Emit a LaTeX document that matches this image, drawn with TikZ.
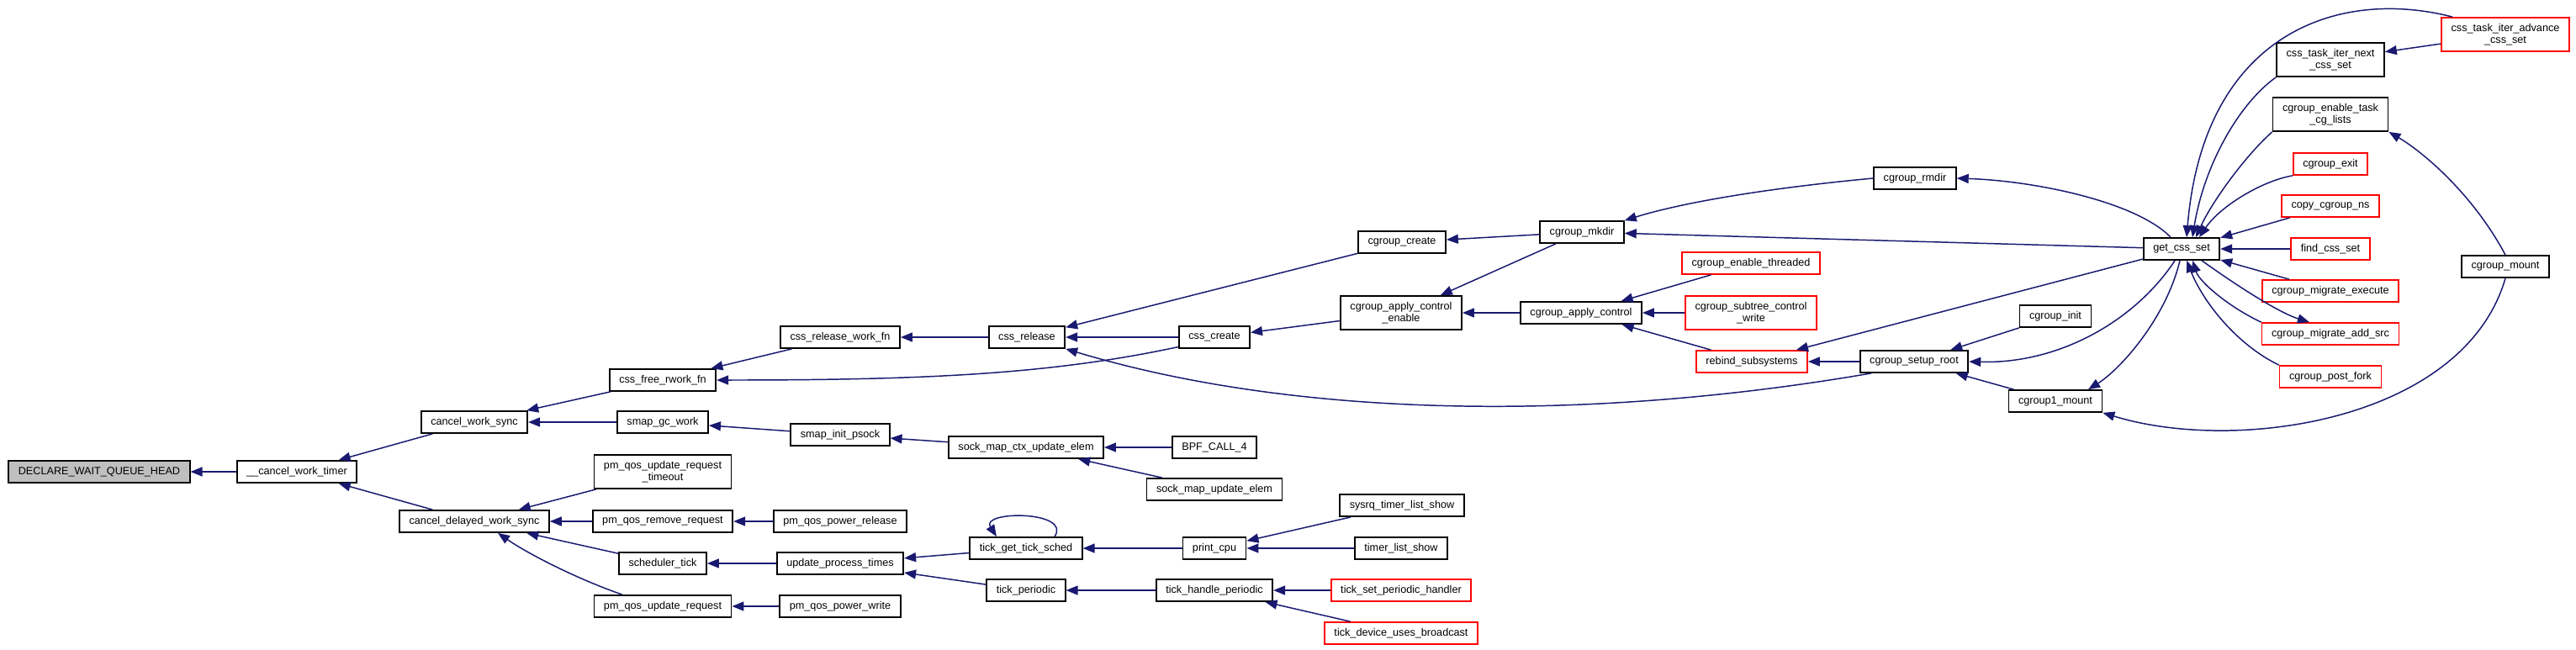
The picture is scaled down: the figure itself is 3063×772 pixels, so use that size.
\documentclass[tikz,border=0pt]{standalone}
\usepackage{fontspec}
\setmainfont{Liberation Sans}
\usetikzlibrary{arrows.meta}
\definecolor{edgeblue}{HTML}{191970}
\definecolor{rootgray}{HTML}{BFBFBF}

\begin{document}
\begin{tikzpicture}[x=0.01cm, y=-0.01cm, >={Triangle[length=0.14cm, width=0.11cm]},
  font=\fontsize{3.6}{4}\selectfont,
  fn/.style={draw=black, line width=0.5pt, fill=white, inner xsep=0.115cm, inner ysep=0pt,
    minimum height=0.26cm, align=center},
  fnred/.style={fn, draw=red},
  fnroot/.style={fn, fill=rootgray},
  two/.style={minimum height=0.40cm},
  call/.style={->, draw=edgeblue, line width=0.42pt}]
  \useasboundingbox[fill=white] (0,0) rectangle (3063,772);

  % the function itself and its direct callers
  \node[fnroot] (decl) at (118,561) {DECLARE\_WAIT\_QUEUE\_HEAD};
  \node[fn] (cwt) at (353,561) {\_\_cancel\_work\_timer};
  \node[fn] (cws) at (564,502) {cancel\_work\_sync};
  \node[fn] (cdws) at (564,620) {cancel\_delayed\_work\_sync};
  % third column
  \node[fn] (cfree) at (788,452) {css\_free\_rwork\_fn};
  \node[fn] (smapgc) at (788,502) {smap\_gc\_work};
  \node[fn, two] (pmurt) at (788,561) {pm\_qos\_update\_request\\\_timeout};
  \node[fn] (pmrr) at (788,620) {pm\_qos\_remove\_request};
  \node[fn] (schedtick) at (788,670) {scheduler\_tick};
  \node[fn] (pmur) at (788,721) {pm\_qos\_update\_request};
  \node[fn] (crwf) at (999,401) {css\_release\_work\_fn};
  \node[fn] (smapinit) at (999,517) {smap\_init\_psock};
  \node[fn] (pmpr) at (999,620) {pm\_qos\_power\_release};
  \node[fn] (upt) at (999,670) {update\_process\_times};
  \node[fn] (pmpw) at (999,721) {pm\_qos\_power\_write};
  \node[fn] (cssrel) at (1221,401) {css\_release};
  \node[fn] (smcue) at (1220,532) {sock\_map\_ctx\_update\_elem};
  \node[fn] (tgts) at (1220,652) {tick\_get\_tick\_sched};
  \node[fn] (tickper) at (1220,702) {tick\_periodic};
  \node[fn] (csscreate) at (1444,401) {css\_create};
  \node[fn] (bpf) at (1444,532) {BPF\_CALL\_4};
  \node[fn] (smue) at (1444,582) {sock\_map\_update\_elem};
  \node[fn] (printcpu) at (1444,652) {print\_cpu};
  \node[fn] (thp) at (1444,702) {tick\_handle\_periodic};
  \node[fn] (cgcreate) at (1667,288) {cgroup\_create};
  \node[fn, two] (cace) at (1666,372) {cgroup\_apply\_control\\\_enable};
  \node[fn] (sysrq) at (1667,601) {sysrq\_timer\_list\_show};
  \node[fn] (tls) at (1666,652) {timer\_list\_show};
  \node[fnred] (tsph) at (1666,702) {tick\_set\_periodic\_handler};
  \node[fnred] (tdub) at (1666,753) {tick\_device\_uses\_broadcast};
  % cgroup side
  \node[fn] (mkdir) at (1881,276) {cgroup\_mkdir};
  \node[fn] (cac) at (1880,372) {cgroup\_apply\_control};
  \node[fnred] (cet) at (2082,313) {cgroup\_enable\_threaded};
  \node[fnred, two] (cscw) at (2082,372) {cgroup\_subtree\_control\\\_write};
  \node[fnred] (rebind) at (2083,430) {rebind\_subsystems};
  \node[fn] (rmdir) at (2277,212) {cgroup\_rmdir};
  \node[fn] (setuproot) at (2276,430) {cgroup\_setup\_root};
  \node[fn] (cginit) at (2444,376) {cgroup\_init};
  \node[fn] (cg1mount) at (2444,477) {cgroup1\_mount};
  \node[fn] (getcss) at (2594,296) {get\_css\_set};
  \node[fn, two] (ctin) at (2771,71) {css\_task\_iter\_next\\\_css\_set};
  \node[fn, two] (cetcl) at (2771,136) {cgroup\_enable\_task\\\_cg\_lists};
  \node[fnred] (cgexit) at (2771,195) {cgroup\_exit};
  \node[fnred] (copyns) at (2771,245) {copy\_cgroup\_ns};
  \node[fnred] (findcss) at (2771,296) {find\_css\_set};
  \node[fnred] (cme) at (2771,346) {cgroup\_migrate\_execute};
  \node[fnred] (cmas) at (2771,397) {cgroup\_migrate\_add\_src};
  \node[fnred] (cpf) at (2771,448) {cgroup\_post\_fork};
  \node[fnred, two] (ctia) at (2979,41) {css\_task\_iter\_advance\\\_css\_set};
  \node[fn] (cgmount) at (2979,317) {cgroup\_mount};

  % straight calls (caller -> callee)
  \draw[call] (cwt) -- (decl);
  \draw[call] (cws) -- (cwt);
  \draw[call] (cdws) -- (cwt);
  \draw[call] (cfree) -- (cws);
  \draw[call] (smapgc) -- (cws);
  \draw[call] (pmurt) -- (cdws);
  \draw[call] (pmrr) -- (cdws);
  \draw[call] (schedtick) -- (cdws);
  \draw[call] (crwf) -- (cfree);
  \draw[call] (smapinit) -- (smapgc);
  \draw[call] (pmpr) -- (pmrr);
  \draw[call] (upt) -- (schedtick);
  \draw[call] (pmpw) -- (pmur);
  \draw[call] (cssrel) -- (crwf);
  \draw[call] (smcue) -- (smapinit);
  \draw[call] (tgts) -- (upt);
  \draw[call] (tickper) -- (upt);
  \draw[call] (cgcreate) -- (cssrel);
  \draw[call] (csscreate) -- (cssrel);
  \draw[call] (bpf) -- (smcue);
  \draw[call] (smue) -- (smcue);
  \draw[call] (printcpu) -- (tgts);
  \draw[call] (thp) -- (tickper);
  \draw[call] (cace) -- (csscreate);
  \draw[call] (sysrq) -- (printcpu);
  \draw[call] (tls) -- (printcpu);
  \draw[call] (tsph) -- (thp);
  \draw[call] (tdub) -- (thp);
  \draw[call] (mkdir) -- (cgcreate);
  \draw[call] (mkdir) -- (cace);
  \draw[call] (cac) -- (cace);
  \draw[call] (cet) -- (cac);
  \draw[call] (cscw) -- (cac);
  \draw[call] (rebind) -- (cac);
  \draw[call] (getcss) -- (mkdir);
  \draw[call] (getcss) -- (rebind);
  \draw[call] (setuproot) -- (rebind);
  \draw[call] (cginit) -- (setuproot);
  \draw[call] (cg1mount) -- (setuproot);
  \draw[call] (copyns) -- (getcss);
  \draw[call] (findcss) -- (getcss);
  \draw[call] (cme) -- (getcss);
  \draw[call] (ctia) -- (ctin);

  % curved calls
  \draw[call] ([xshift=-0.48cm]pmur.north) .. controls (690,690) and (630,660) .. ([xshift=0.28cm]cdws.south);
  \draw[call] (csscreate.195) .. controls (1250,445) and (1100,452) .. (cfree.east);
  \draw[call] ([xshift=-0.51cm]setuproot.south) .. controls (1900,500) and (1550,500) .. (cssrel.south east);
  % recursion on tick_get_tick_sched
  \draw[call] ([xshift=0.34cm]tgts.north) .. controls (1275,607) and (1165,607) .. ([xshift=-0.35cm]tgts.north);
  \draw[call] (rmdir.west) .. controls (2120,222) and (2010,238) .. (mkdir.north east);
  \draw[call] ([xshift=-0.13cm]getcss.north) .. controls (2540,240) and (2420,215) .. (rmdir.east);
  \draw[call] ([xshift=-0.08cm]getcss.south) .. controls (2540,380) and (2450,433) .. (setuproot.east);
  \draw[call] ([xshift=-0.02cm]getcss.south) .. controls (2575,380) and (2520,440) .. ([xshift=0.39cm]cg1mount.north);
  \draw[call] (cgmount.south) .. controls (2930,500) and (2660,540) .. (cg1mount.south east);
  \draw[call] (cgmount.north) .. controls (2940,230) and (2880,180) .. (cetcl.south east);
  % callers of get_css_set coming in from the right
  \draw[call] ([xshift=-0.63cm]ctia.north) .. controls (2780,-15) and (2620,40) .. ([xshift=0.06cm]getcss.north);
  \draw[call] (ctin.south west) .. controls (2660,125) and (2620,200) .. ([xshift=0.13cm]getcss.north);
  \draw[call] (cetcl.south west) .. controls (2670,185) and (2630,240) .. ([xshift=0.17cm]getcss.north);
  \draw[call] (cgexit.south west) .. controls (2690,215) and (2640,245) .. ([xshift=0.21cm]getcss.north);
  \draw[call] (cmas.north west) .. controls (2650,365) and (2615,335) .. ([xshift=0.13cm]getcss.south);
  \draw[call] ([xshift=0.24cm]getcss.south) .. controls (2660,340) and (2710,372) .. ([xshift=-0.25cm]cmas.north);
  \draw[call] (cpf.north west) .. controls (2660,410) and (2620,360) .. ([xshift=0.06cm]getcss.south);
\end{tikzpicture}
\end{document}
